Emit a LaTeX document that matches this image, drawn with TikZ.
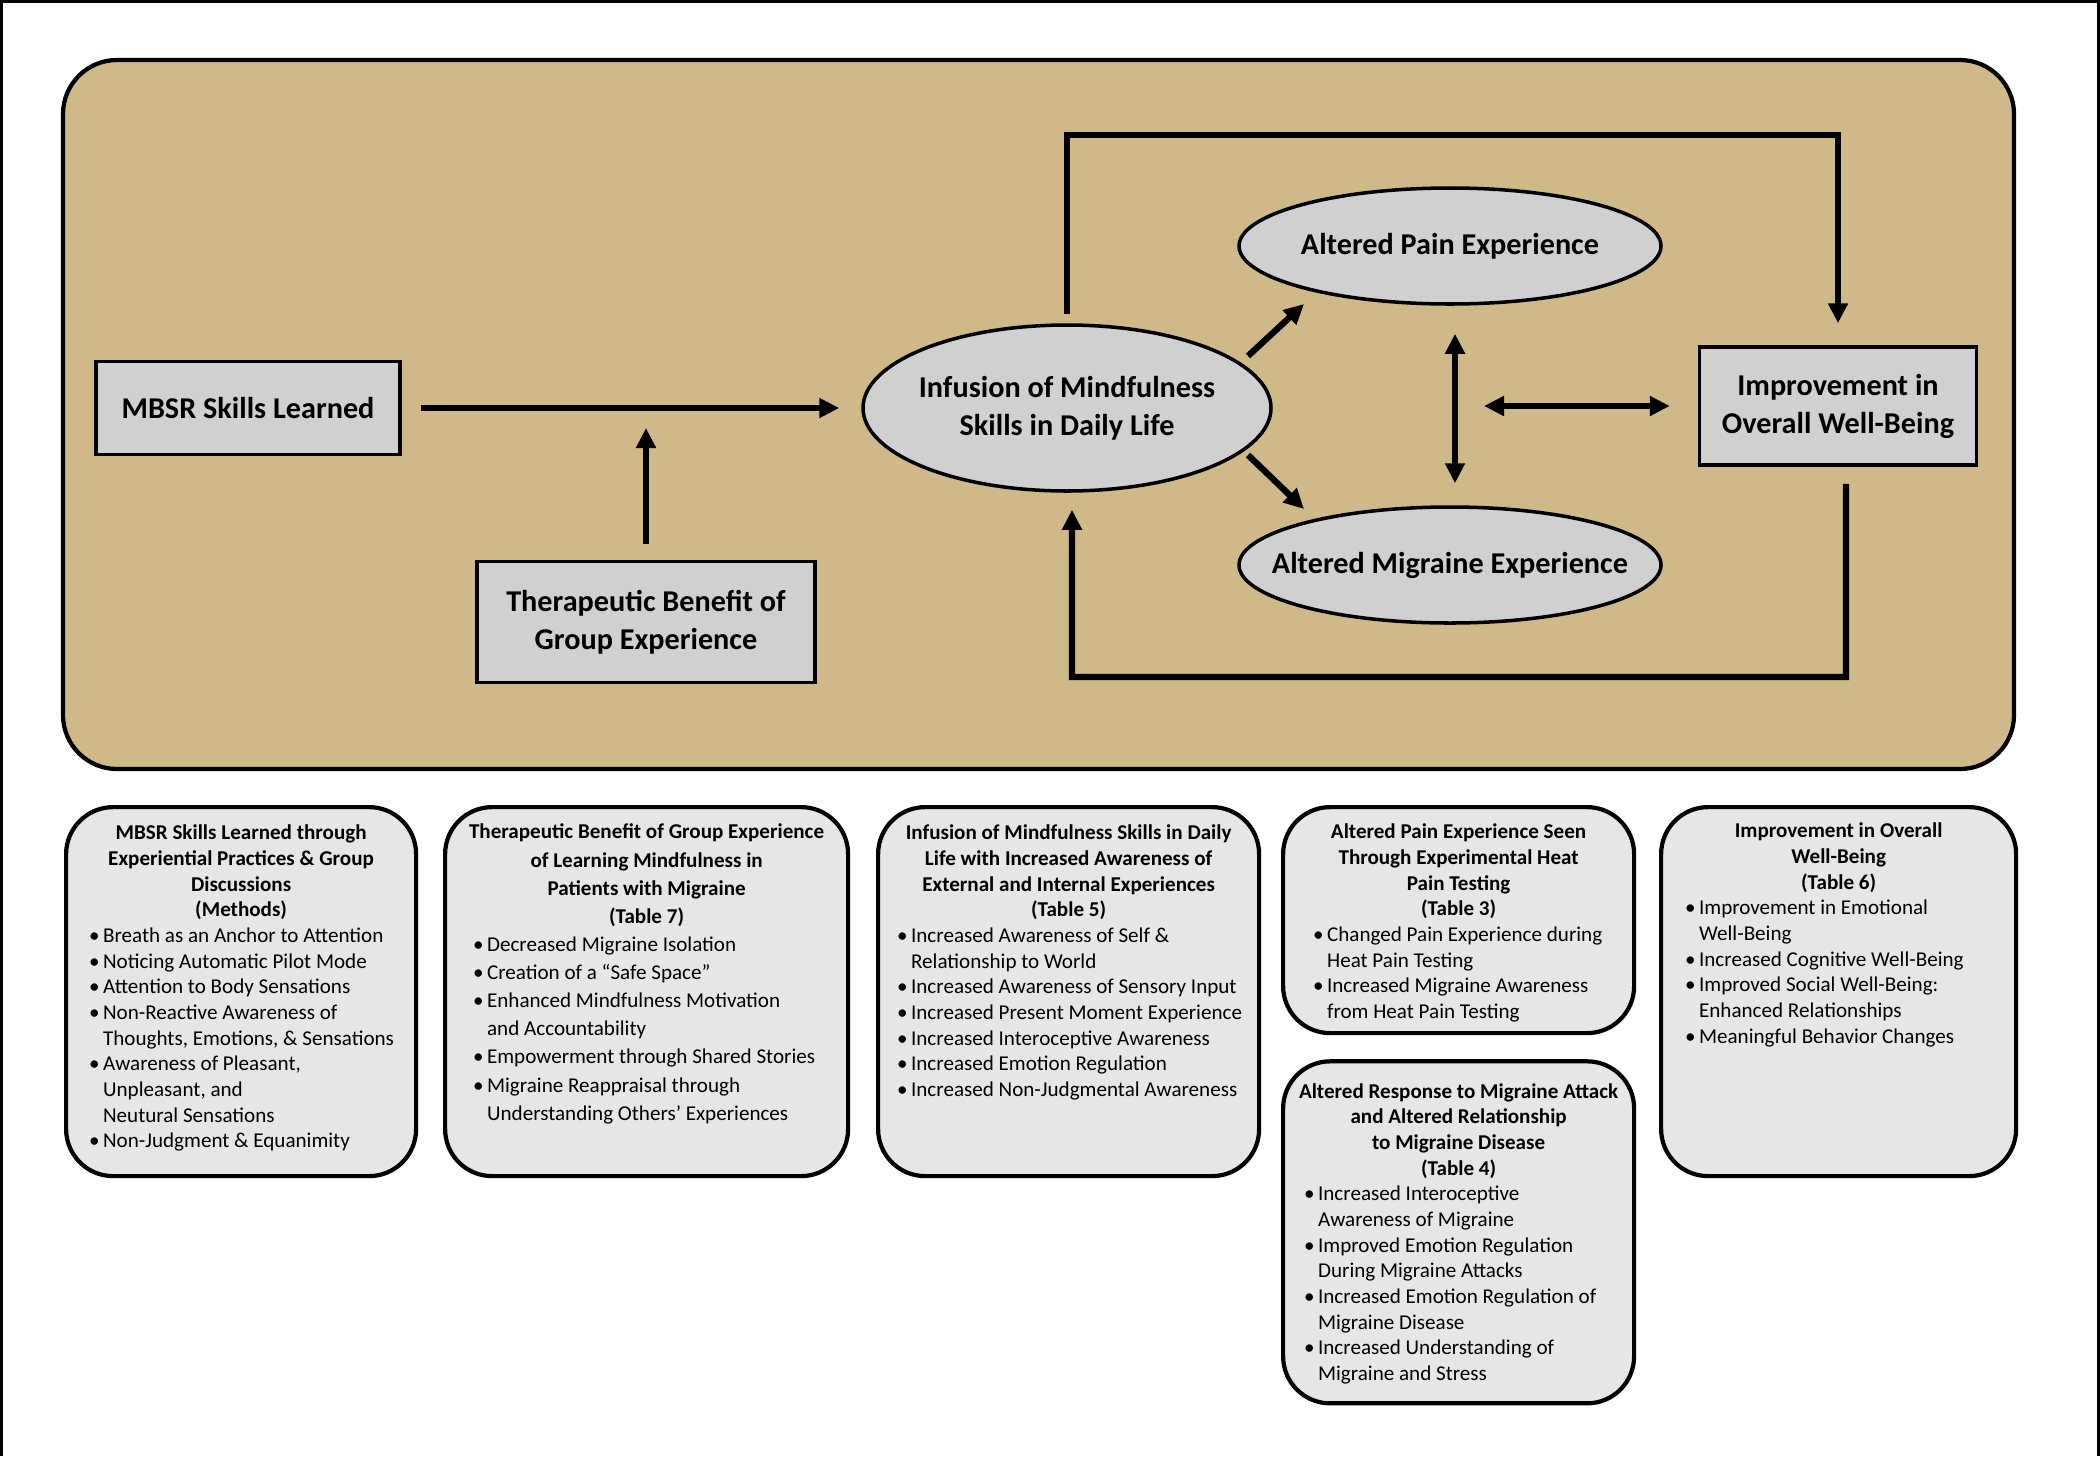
\documentclass[tikz,border=0pt]{standalone}
\usepackage{fontspec}
\setmainfont{Carlito}
\usetikzlibrary{positioning,arrows.meta,shapes.geometric}
\definecolor{TanPanel}{RGB}{207,185,137}
\definecolor{NodeGray}{RGB}{208,208,208}
\definecolor{CardGray}{RGB}{230,230,230}
\newcommand{\topfont}{\fontsize{8.6}{10.8}\selectfont\bfseries}
\newcommand{\cardfont}{\fontsize{6}{7.3}\selectfont}
\newcommand{\cardhead}[1]{{\centering\bfseries #1\par}}
\newcommand{\bitem}[1]{\strut\makebox[1.4mm][l]{\textbullet}\begin{tabular}[t]{@{}l@{}}#1\end{tabular}\par}
\newcommand{\cardbody}[4]{\parbox[c][#1][t]{#2}{\raggedright\lineskip=0pt\vspace*{#3}#4}}

\begin{document}
\begin{tikzpicture}[x=0.1mm, y=-0.1mm,
    stage/.style={rectangle, draw, line width=1pt, fill=NodeGray, inner sep=0pt,
        align=center, font=\topfont},
    oval/.style={ellipse, draw, line width=1pt, fill=NodeGray, inner ysep=0pt, inner xsep=-3mm,
        align=center, font=\topfont, minimum width=42.2mm, minimum height=11.6mm},
    card/.style={rectangle, rounded corners=4.7mm, draw, line width=1.2pt, fill=CardGray,
        inner xsep=1mm, inner ysep=0pt, font=\cardfont},
    arr/.style={-{Triangle[length=2mm,width=1.9mm]}, line width=1.8pt},
    dbl/.style={{Triangle[length=2mm,width=1.9mm]}-{Triangle[length=2mm,width=1.9mm]}, line width=1.8pt},
]
\useasboundingbox (0,0) rectangle (2100,1456);
\draw[line width=1pt] (1.7,1456) -- (1.7,1.7) -- (2098.3,1.7) -- (2098.3,1456);
\draw[line width=1.2pt, fill=TanPanel, rounded corners=5.4mm] (63,60) rectangle (2014,769);

\node[stage, minimum width=30.4mm, minimum height=9.3mm] (mbsr) at (248,408) {MBSR Skills Learned};
\node[stage, minimum width=33.8mm, minimum height=12.1mm] (group) at (646,622) {Therapeutic Benefit of\\Group Experience};
\node[oval, minimum width=40.8mm, minimum height=16.6mm] (inf) at (1067,408) {Infusion of Mindfulness\\Skills in Daily Life};
\node[oval] (pain) at (1450,246) {Altered Pain Experience};
\node[oval] (migr) at (1450,565) {Altered Migraine Experience};
\node[stage, minimum width=27.7mm, minimum height=11.8mm] (imp) at (1838,406) {Improvement in\\Overall Well-Being};

\coordinate (join) at (646,408);
\coordinate (loopT) at (1838,135);
\coordinate (loopB) at (1072,677);
\coordinate (pm) at (1484,406);

\draw[arr, shorten <=1.9mm, shorten >=2.2mm] (mbsr) -- (inf);
\draw[arr, shorten <=1.6mm, shorten >=2mm] (group) -- (join);
\draw[arr] ([yshift=0.9mm]inf.north) |- (loopT) -- ([yshift=2.2mm]imp.north);
\draw[arr] ([xshift=0.8mm,yshift=-1.7mm]imp.south) |- (loopB) -- ([xshift=0.5mm,yshift=-1.7mm]inf.south);
\draw[arr] ([shift={(181,-52)}]inf.center) -- ([shift={(-146,58)}]pain.center);
\draw[arr] ([shift={(181,47)}]inf.center) -- ([shift={(-146,-56)}]migr.center);
\draw[dbl] ([xshift=0.5mm,yshift=-2.8mm]pain.south) -- ([xshift=0.5mm,yshift=2.2mm]migr.north);
\draw[dbl, shorten >=2.8mm] (pm) -- (imp);

\node[card, anchor=north west] (c-mbsr) at (64,805) {\cardbody{36.9mm}{33mm}{1.8mm}{%
    \cardhead{MBSR Skills Learned through\\Experiential Practices \& Group\\Discussions\\(Methods)}
    \leftskip=1.3mm
    \bitem{Breath as an Anchor to Attention}
    \bitem{Noticing Automatic Pilot Mode}
    \bitem{Attention to Body Sensations}
    \bitem{Non-Reactive Awareness of\\Thoughts, Emotions, \& Sensations}
    \bitem{Awareness of Pleasant,\\Unpleasant, and\\Neutural Sensations}
    \bitem{Non-Judgment \& Equanimity}}};
\node[card, anchor=north west, font={\fontsize{6}{8}\selectfont}] (c-group) at (443,805) {\cardbody{36.9mm}{38.3mm}{1.7mm}{%
    \cardhead{Therapeutic Benefit of Group Experience\\of Learning Mindfulness in\\Patients with Migraine\\(Table 7)}
    \leftskip=1.8mm
    \bitem{Decreased Migraine Isolation}
    \bitem{Creation of a “Safe Space”}
    \bitem{Enhanced Mindfulness Motivation\\and Accountability}
    \bitem{Empowerment through Shared Stories}
    \bitem{Migraine Reappraisal through\\Understanding Others’ Experiences}}};
\node[card, anchor=north west] (c-inf) at (876,805) {\cardbody{36.9mm}{36.1mm}{1.8mm}{%
    \cardhead{Infusion of Mindfulness Skills in Daily\\Life with Increased Awareness of\\External and Internal Experiences\\(Table 5)}
    \leftskip=0.9mm
    \bitem{Increased Awareness of Self \&\\Relationship to World}
    \bitem{Increased Awareness of Sensory Input}
    \bitem{Increased Present Moment Experience}
    \bitem{Increased Interoceptive Awareness}
    \bitem{Increased Emotion Regulation}
    \bitem{Increased Non-Judgmental Awareness}}};
\node[card, anchor=north west] (c-pain) at (1281,805) {\cardbody{22.6mm}{33.1mm}{1.7mm}{%
    \cardhead{Altered Pain Experience Seen\\Through Experimental Heat\\Pain Testing\\(Table 3)}
    \leftskip=2mm
    \bitem{Changed Pain Experience during\\Heat Pain Testing}
    \bitem{Increased Migraine Awareness\\from Heat Pain Testing}}};
\node[card, below=2.4mm of c-pain] (c-migr) {\cardbody{34.2mm}{33.1mm}{2.2mm}{%
    \cardhead{Altered Response to Migraine Attack\\and Altered Relationship\\to Migraine Disease\\(Table 4)}
    \leftskip=1.1mm
    \bitem{Increased Interoceptive\\Awareness of Migraine}
    \bitem{Improved Emotion Regulation\\During Migraine Attacks}
    \bitem{Increased Emotion Regulation of\\Migraine Disease}
    \bitem{Increased Understanding of\\Migraine and Stress}}};
\node[card, anchor=north west] (c-imp) at (1659,805) {\cardbody{36.9mm}{33.5mm}{1.6mm}{%
    \cardhead{Improvement in Overall\\Well-Being\\(Table 6)}
    \leftskip=1.4mm
    \bitem{Improvement in Emotional\\Well-Being}
    \bitem{Increased Cognitive Well-Being}
    \bitem{Improved Social Well-Being:\\Enhanced Relationships}
    \bitem{Meaningful Behavior Changes}}};
\end{tikzpicture}
\end{document}
